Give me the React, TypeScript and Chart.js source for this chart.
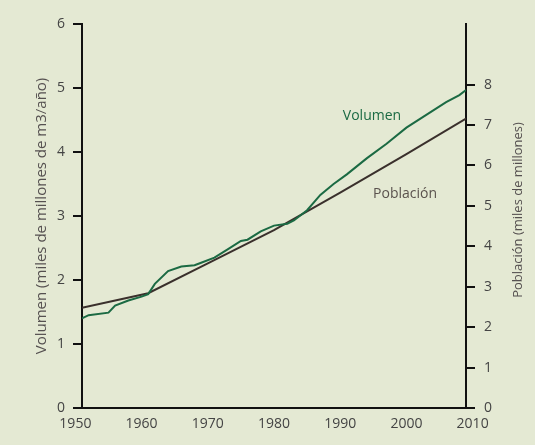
import React, { useEffect, useRef } from "react";
import { Chart, registerables } from "chart.js";

Chart.register(...registerables);

// ---- Data ----
const xTickYears = [1950, 1960, 1970, 1980, 1990, 2000, 2010];
const leftTicks = [0, 1, 2, 3, 4, 5, 6];
const rightTicks = [0, 1, 2, 3, 4, 5, 6, 7, 8];

// Volumen (miles de millones de m3/año) – left axis
const volumenYears = [1951, 1952, 1955, 1956, 1958, 1960, 1961, 1962, 1964, 1966, 1968, 1969, 1971, 1973, 1975, 1976, 1978, 1980, 1982, 1983, 1985, 1987, 1989, 1991, 1994, 1997, 2000, 2003, 2006, 2008, 2009];
const volumenValues = [1.40, 1.45, 1.49, 1.60, 1.68, 1.74, 1.78, 1.94, 2.14, 2.21, 2.23, 2.27, 2.35, 2.48, 2.61, 2.63, 2.76, 2.85, 2.88, 2.93, 3.09, 3.33, 3.50, 3.65, 3.90, 4.13, 4.38, 4.58, 4.78, 4.89, 4.97];

// Población (miles de millones) – right axis
const poblacionYears = [1951, 1961, 1970, 1980, 1990, 2000, 2009];
const poblacionValues = [2.48, 2.84, 3.58, 4.40, 5.33, 6.28, 7.16];

const leftTitle = "Volumen (miles de millones de m3/año)";
const rightTitle = "Población (miles de millones)";
const volumenLabel = "Volumen";
const poblacionLabel = "Población";

const BG = "#E4E9D3";
const GREEN = "#1B6A43";
const BROWN = "#3A302C";
const FONT = "'Open Sans', sans-serif";

const textPlugin = {
  id: "texts",
  afterDraw(chart: any) {
    const { ctx, chartArea, scales } = chart;
    const cy = (chartArea.top + chartArea.bottom) / 2;
    ctx.save();
    ctx.textAlign = "center";
    ctx.textBaseline = "middle";
    // left title
    ctx.fillStyle = "#555050";
    ctx.font = `15px ${FONT}`;
    ctx.save();
    ctx.translate(42, cy);
    ctx.rotate(-Math.PI / 2);
    ctx.fillText(leftTitle, 0, 0);
    ctx.restore();
    // right title
    ctx.font = `13px ${FONT}`;
    ctx.save();
    ctx.translate(518, cy - 6);
    ctx.rotate(-Math.PI / 2);
    ctx.fillText(rightTitle, 0, 0);
    ctx.restore();
    // series labels
    ctx.font = `14px ${FONT}`;
    ctx.fillStyle = GREEN;
    ctx.fillText(volumenLabel, scales.x.getPixelForValue(1994.8), scales.y.getPixelForValue(4.56));
    ctx.fillStyle = "#5A524D";
    ctx.fillText(poblacionLabel, scales.x.getPixelForValue(1999.8), scales.y.getPixelForValue(3.34));
    ctx.restore();
  },
};

export default function App() {
  const ref = useRef<HTMLCanvasElement>(null);
  useEffect(() => {
    document.body.style.margin = "0";
    document.body.style.background = BG;
    const tickFont = { family: FONT, size: 14 };
    const chart = new Chart(ref.current as HTMLCanvasElement, {
      type: "line",
      data: {
        datasets: [
          {
            label: volumenLabel,
            data: volumenYears.map((x, i) => ({ x, y: volumenValues[i] })),
            borderColor: GREEN,
            borderWidth: 2,
            pointRadius: 0,
            tension: 0,
            yAxisID: "y",
          },
          {
            label: poblacionLabel,
            data: poblacionYears.map((x, i) => ({ x, y: poblacionValues[i] })),
            borderColor: BROWN,
            borderWidth: 2,
            pointRadius: 0,
            tension: 0,
            yAxisID: "y2",
          },
        ],
      },
      options: {
        responsive: false,
        animation: false,
        layout: { padding: { top: 24, left: 0, right: 0, bottom: 0 } },
        plugins: { legend: { display: false }, tooltip: { enabled: false } },
        scales: {
          x: {
            type: "linear",
            min: 1951,
            max: 2009,
            afterBuildTicks: (s: any) => {
              s.ticks = xTickYears.map((v) => ({ value: v }));
            },
            afterFit: (s: any) => {
              s.height = 37;
            },
            ticks: {
              autoSkip: false,
              maxRotation: 0,
              color: "#444",
              font: tickFont,
              padding: 8,
              callback: (v: any) => String(v),
            },
            grid: { display: false, drawTicks: false },
            border: { display: true, color: "#111", width: 2 },
          },
          y: {
            position: "left",
            min: 0,
            max: 6,
            afterBuildTicks: (s: any) => {
              s.ticks = leftTicks.map((v) => ({ value: v }));
            },
            afterFit: (s: any) => {
              s.width = 82;
            },
            ticks: { color: "#444", font: tickFont, padding: 8 },
            grid: { drawOnChartArea: false, drawTicks: true, tickLength: 9, color: "#111", lineWidth: 2 },
            border: { display: true, color: "#111", width: 2 },
          },
          y2: {
            position: "right",
            min: 0,
            max: 9.5,
            afterBuildTicks: (s: any) => {
              s.ticks = rightTicks.map((v) => ({ value: v }));
            },
            afterFit: (s: any) => {
              s.width = 69;
            },
            ticks: { color: "#444", font: tickFont, padding: 9 },
            grid: { drawOnChartArea: false, drawTicks: true, tickLength: 9, color: "#111", lineWidth: 2 },
            border: { display: true, color: "#111", width: 2 },
          },
        },
      },
      plugins: [textPlugin],
    } as any);
    return () => chart.destroy();
  }, []);
  return (
    <div style={{ width: 535, height: 445, background: BG }}>
      <canvas ref={ref} width={535} height={445} />
    </div>
  );
}
